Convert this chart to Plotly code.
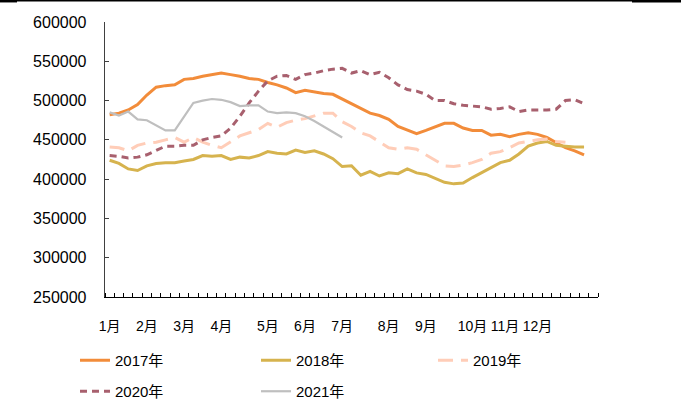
import plotly.graph_objects as go

# ---- data (weekly, index 0 = first week of January) ----
month_labels = ["1月", "2月", "3月", "4月", "5月", "6月", "7月", "8月", "9月", "10月", "11月", "12月"]
month_week_index = [0, 4, 8, 12, 17, 21, 25, 30, 34, 39, 42.5, 46]
n_categories = 53

s2017 = [482000, 484000, 488000, 495000, 507000, 517000, 519000, 520000, 527000, 528000,
         531000, 533000, 535000, 533000, 531000, 528000, 527000, 523000, 520000, 516000,
         510000, 513000, 511000, 509000, 508000, 502000, 495000, 490000, 484000, 481000,
         476000, 467000, 463000, 458000, 462000, 467000, 471000, 471000, 465000, 462000,
         462000, 456000, 457000, 454000, 457000, 459000, 457000, 453000, 446000, 440000,
         436000, 431000]
s2018 = [424000, 420000, 413000, 411000, 417000, 420000, 421000, 421000, 423000, 425000,
         430000, 429000, 430000, 425000, 428000, 427000, 430000, 435000, 433000, 432000,
         437000, 434000, 436000, 432000, 426000, 416000, 417000, 405000, 410000, 404000,
         408000, 407000, 413000, 408000, 406000, 401000, 396000, 394000, 395000, 402000,
         408000, 415000, 421000, 424000, 432000, 442000, 446000, 448000, 443000, 442000,
         441000, 441000]
s2019 = [441000, 440000, 436000, 443000, 446000, 447000, 450000, 453000, 447000, 453000,
         447000, 443000, 440000, 447000, 455000, 459000, 463000, 471000, 466000, 472000,
         475000, 477000, 481000, 484000, 484000, 473000, 467000, 459000, 455000, 447000,
         440000, 438000, 440000, 438000, 431000, 424000, 417000, 416000, 418000, 421000,
         425000, 433000, 435000, 440000, 446000, 448000, 450000, 451000, 448000, 447000]
s2020 = [430000, 429000, 427000, 428000, 431000, 436000, 442000, 442000, 443000, 443000,
         450000, 453000, 455000, 465000, 480000, 497000, 512000, 525000, 531000, 532000,
         527000, 533000, 535000, 538000, 540000, 541000, 535000, 538000, 533000, 536000,
         529000, 520000, 514000, 512000, 508000, 500000, 500000, 496000, 494000, 493000,
         492000, 489000, 490000, 492000, 486000, 488000, 488000, 488000, 489000, 500000,
         501000, 496000]
s2021 = [485000, 481000, 486000, 476000, 475000, 469000, 462000, 462000, 480000, 497000,
         500000, 502000, 501000, 498000, 493000, 494000, 494000, 486000, 484000, 485000,
         484000, 480000, 474000, 467000, 461000, 453000]

y_ticks = [250000, 300000, 350000, 400000, 450000, 500000, 550000, 600000]

FONT = "Liberation Sans, Arial, Noto Sans CJK SC, sans-serif"

series = [
    ("2017年", s2017, "#F28C3A", 3, "solid", "legend"),
    ("2018年", s2018, "#D6B34E", 3, "solid", "legend"),
    ("2019年", s2019, "#FFCDB8", 3, "15px,8px", "legend3"),
    ("2020年", s2020, "#A8606E", 3, "7px,5px", "legend2"),
    ("2021年", s2021, "#BFBFBF", 2.2, "solid", "legend2"),
]

fig = go.Figure()
for name, vals, color, width, dash, leg in series:
    fig.add_trace(go.Scatter(
        x=list(range(len(vals))), y=vals, mode="lines", name=name,
        line=dict(color=color, width=width, dash=dash),
        legend=leg, hoverinfo="skip",
    ))

L, R, T, B = 105, 83, 22, 116
W, H = 681, 413
pw, ph = W - L - R, H - T - B

def px_x(p):
    return (p - L) / pw

def px_y(p):
    return (H - B - p) / ph

leg_common = dict(orientation="h", xanchor="left", yanchor="top",
                  entrywidth=136, entrywidthmode="pixels", font=dict(size=15),
                  bgcolor="rgba(0,0,0,0)")

fig.update_layout(
    width=W, height=H,
    margin=dict(l=L, r=R, t=T, b=B, autoexpand=False),
    paper_bgcolor="white", plot_bgcolor="white",
    font=dict(family=FONT, size=15, color="#000000"),
    showlegend=True,
    legend=dict(x=px_x(75), y=px_y(344), **leg_common),
    legend3=dict(x=px_x(433), y=px_y(344), **leg_common),
    legend2=dict(x=px_x(75), y=px_y(375), **leg_common),
    xaxis=dict(
        range=[-0.5, n_categories - 0.5],
        tickmode="array", tickvals=month_week_index, ticktext=month_labels,
        tickangle=0, automargin=False,
        ticks="", showgrid=False, zeroline=False,
        showline=True, linecolor="#000000", linewidth=1.3,
        ticklabelstandoff=16,
        tickfont=dict(size=14),
        minor=dict(tickmode="array", tickvals=[i - 0.5 for i in range(n_categories + 1)],
                   ticks="inside", ticklen=4, tickcolor="#000000", tickwidth=1,
                   showgrid=False),
    ),
    yaxis=dict(
        range=[250000, 600000], automargin=False,
        tickmode="array", tickvals=y_ticks, tickformat="d",
        ticks="inside", ticklen=4, tickcolor="#404040", tickwidth=1,
        showgrid=False, zeroline=False,
        showline=True, linecolor="#404040", linewidth=1.3,
        ticklabelstandoff=14,
        tickfont=dict(size=16),
    ),
    shapes=[
        dict(type="line", xref="paper", yref="paper", x0=px_x(0), x1=px_x(681),
             y0=px_y(0.7), y1=px_y(0.7), line=dict(color="#000000", width=1.4)),
        dict(type="line", xref="paper", yref="paper", x0=px_x(0), x1=px_x(17),
             y0=px_y(1.2), y1=px_y(1.2), line=dict(color="#000000", width=2.5)),
        dict(type="line", xref="paper", yref="paper", x0=px_x(632), x1=px_x(681),
             y0=px_y(1.2), y1=px_y(1.2), line=dict(color="#000000", width=2.5)),
    ],
)

fig.write_html("out.html",
               config={"displayModeBar": False, "staticPlot": True},
               post_script="document.body.style.margin='0';document.body.style.padding='0';")
